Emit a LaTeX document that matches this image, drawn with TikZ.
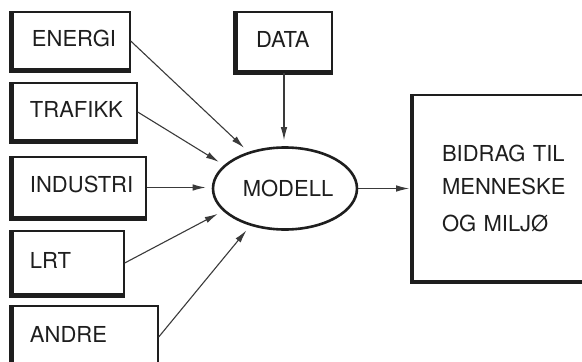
\documentclass[tikz,border=0pt]{standalone}
\usepackage{fontspec}
\setmainfont{TeX Gyre Heros}
\usetikzlibrary{arrows.meta,shapes.geometric}
\definecolor{ink}{HTML}{1E1E1E}
\definecolor{wire}{HTML}{3A3A3A}
\begin{document}
\begin{tikzpicture}[x=1pt,y=-1pt,
  label font/.style={text=ink, font=\fontsize{22}{33}\selectfont},
  source/.style={draw=ink, line width=1.4pt, inner sep=0pt, align=left,
    label font, text depth=6pt,
    execute at begin node={\leftskip=#1\relax}},
  source/.default=18pt,
  outcome/.style={draw=ink, line width=1.6pt, inner sep=0pt, align=left,
    label font, execute at begin node={\leftskip=29pt\relax}},
  heavy/.style={draw=ink, line width=4.5pt, line join=miter},
  model/.style={ellipse, draw=ink, line width=2.6pt, inner sep=0pt,
    label font, minimum width=144pt, minimum height=82pt},
  feed/.style={draw=wire, line width=1.1pt,
    -{Latex[length=13pt,width=6.5pt]}, shorten >=6pt}]
\useasboundingbox (0,0) rectangle (582,362);
\clip (0,0) rectangle (582,362);

% input boxes
\node[source=20pt, minimum width=118pt, minimum height=58pt, text width=118pt] (energi) at (71,41) {ENERGI};
\node[source, minimum width=125pt, minimum height=58pt, text width=125pt] (trafikk) at (74.5,112) {TRAFIKK};
\node[source, minimum width=134pt, minimum height=61pt, text width=134pt] (industri) at (79,187.5) {INDUSTRI};
\node[source, minimum width=112pt, minimum height=64pt, text width=112pt] (lrt) at (68,263) {LRT};
\node[source, minimum width=146pt, minimum height=62pt, text width=146pt] (andre) at (85,337) {ANDRE};
\node[source=20pt, minimum width=96pt, minimum height=60pt, text width=96pt] (data) at (284,42) {DATA};

% heavy left and bottom edges
\foreach \b in {energi,trafikk,industri,lrt,andre,data}
  \draw[heavy] (\b.north west) -- (\b.south west) -- (\b.south east);

% model and result
\node[model] (modell) at (285,188.5) {\hspace*{6pt}MODELL};
\node[outcome, minimum width=179pt, minimum height=186pt, text width=179pt] (result) at (502.5,188)
  {BIDRAG TIL\\MENNESKE\\[4pt]OG MILJØ};
\draw[heavy] (result.north west) -- (result.south west) -- (result.south east);

% connectors
\draw[feed] (energi.east) -- (modell.135);
\draw[feed] (trafikk.east) -- (modell.159);
\draw[feed] (industri.east) -- (industri.east -| modell.west);
\draw[feed] (lrt.east) -- (modell.200);
\draw[feed] (andre.east) -- (modell.227);
\draw[feed] (data.south) -- (data.south |- modell.north);
\draw[feed, shorten >=3pt] (modell.east) -- (modell.east -| result.west);
\end{tikzpicture}
\end{document}
